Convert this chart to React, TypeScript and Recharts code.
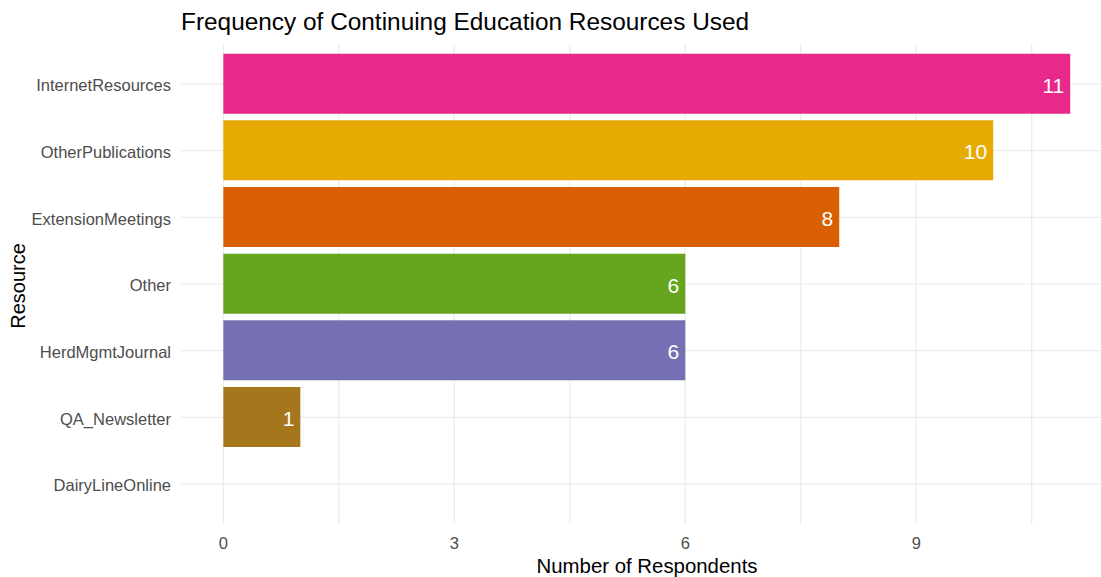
import { BarChart, Bar, XAxis, YAxis, CartesianGrid, Cell, LabelList } from "recharts";

const resources = [
    "InternetResources",
    "OtherPublications",
    "ExtensionMeetings",
    "Other",
    "HerdMgmtJournal",
    "QA_Newsletter",
    "DairyLineOnline",
];
const counts = [11, 10, 8, 6, 6, 1, 0];
const barColors = ["#E7298A", "#E6AB02", "#D95F02", "#66A61E", "#7570B3", "#A6761D", "#1B9E77"];
const xTicks = [0, 3, 6, 9];
const xGrid = [0, 1.5, 3, 4.5, 6, 7.5, 9, 10.5];

const data = resources.map((name, i) => ({ name, count: counts[i] }));

const FONT = '"Liberation Sans", Arial, sans-serif';

const YTick = (props: any) => {
    const { y, payload } = props;
    return (
        <text x={171} y={y + 1.5} dy="0.35em" textAnchor="end" fill="#4d4d4d" fontSize={16.5} fontFamily={FONT}>
            {payload.value}
        </text>
    );
};

const XTick = (props: any) => {
    const { x, y, payload } = props;
    return (
        <text x={x} y={y + 11} dy="0.35em" textAnchor="middle" fill="#4d4d4d" fontSize={16.5} fontFamily={FONT}>
            {payload.value}
        </text>
    );
};

const BarLabel = (props: any) => {
    const { x, y, width, height, value } = props;
    return (
        <text x={x + width - 6} y={y + height / 2 + 1.5} dy="0.35em" textAnchor="end" fill="#ffffff" fontSize={21} fontFamily={FONT}>
            {value}
        </text>
    );
};

export default function App() {
    return (
        <div style={{ position: "absolute", left: 0, top: 0, width: 1101, height: 577, background: "#fff", overflow: "hidden" }}>
            <div style={{ position: "absolute", left: 181, top: 8, fontFamily: FONT, fontSize: 24.4, color: "#000", whiteSpace: "nowrap" }}>
                Frequency of Continuing Education Resources Used
            </div>
            <div style={{ position: "absolute", left: 647, top: 566, transform: "translate(-50%, -50%)", fontFamily: FONT, fontSize: 20.4, color: "#000", whiteSpace: "nowrap" }}>
                Number of Respondents
            </div>
            <div style={{ position: "absolute", left: 18, top: 286, transform: "translate(-50%, -50%) rotate(-90deg)", fontFamily: FONT, fontSize: 20, color: "#000", whiteSpace: "nowrap" }}>
                Resource
            </div>
            <BarChart
                width={1101}
                height={577}
                data={data}
                layout="vertical"
                margin={{ top: 44, right: 0, bottom: 0, left: 0 }}
                barSize={60}
                style={{ position: "absolute", left: 0, top: 0 }}
            >
                <CartesianGrid
                    stroke="#ebebeb"
                    strokeWidth={1.2}
                    verticalValues={xGrid}
                    horizontalValues={resources}
                />
                <XAxis
                    type="number"
                    domain={[-0.55, 11.4]}
                    ticks={xTicks}
                    allowDataOverflow
                    axisLine={false}
                    tickLine={false}
                    tick={<XTick />}
                    height={53}
                />
                <YAxis
                    type="category"
                    dataKey="name"
                    width={181}
                    axisLine={false}
                    tickLine={false}
                    tick={<YTick />}
                    padding={{ top: 6.7, bottom: 6.7 }}
                />
                <Bar dataKey="count" isAnimationActive={false}>
                    {data.map((d, i) => (
                        <Cell key={d.name} fill={barColors[i]} />
                    ))}
                    <LabelList dataKey="count" content={<BarLabel />} />
                </Bar>
            </BarChart>
        </div>
    );
}
